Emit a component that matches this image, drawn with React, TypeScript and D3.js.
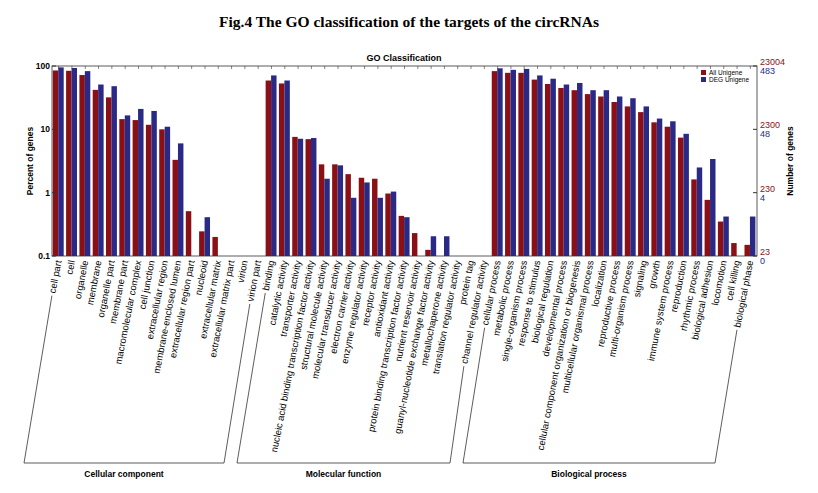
import React, { useEffect, useRef } from 'react';
import * as d3 from 'd3';

const ccTerms = ['cell part', 'cell', 'organelle', 'membrane', 'organelle part', 'membrane part', 'macromolecular complex', 'cell junction', 'extracellular region', 'membrane-enclosed lumen', 'extracellular region part', 'nucleoid', 'extracellular matrix', 'extracellular matrix part', 'virion', 'virion part'];
const ccAll = [85, 84, 72, 42, 32, 14.5, 14, 11.8, 10, 3.3, 0.51, 0.245, 0.2, 0, 0, 0];
const ccDeg = [95, 93, 83, 51, 48, 16.6, 21, 19.5, 11, 6, 0, 0.41, 0, 0, 0, 0];

const mfTerms = ['binding', 'catalytic activity', 'transporter activity', 'nucleic acid binding transcription factor activity', 'structural molecule activity', 'molecular transducer activity', 'electron carrier activity', 'enzyme regulator activity', 'receptor activity', 'antioxidant activity', 'protein binding transcription factor activity', 'nutrient reservoir activity', 'guanyl-nucleotide exchange factor activity', 'metallochaperone activity', 'translation regulator activity', 'protein tag', 'channel regulator activity'];
const mfAll = [59, 53, 7.6, 7.0, 2.8, 2.8, 1.96, 1.72, 1.66, 0.97, 0.43, 0.23, 0.125, 0, 0, 0, 0];
const mfDeg = [71, 59, 7.1, 7.3, 1.66, 2.7, 0.83, 1.45, 0.83, 1.04, 0.41, 0, 0.205, 0.205, 0, 0, 0];

const bpTerms = ['cellular process', 'metabolic process', 'single-organism process', 'response to stimulus', 'biological regulation', 'developmental process', 'cellular component organization or biogenesis', 'multicellular organismal process', 'localization', 'reproductive process', 'multi-organism process', 'signaling', 'growth', 'immune system process', 'reproduction', 'rhythmic process', 'biological adhesion', 'locomotion', 'cell killing', 'biological phase'];
const bpAll = [83, 78, 78, 61, 52, 45, 41.5, 36, 33, 27, 23, 18.7, 12.9, 11, 7.4, 1.62, 0.77, 0.35, 0.16, 0.15];
const bpDeg = [92, 87, 90, 71, 63, 51, 54, 41.5, 41.5, 33, 31, 23, 14.8, 13.4, 8.5, 2.5, 3.4, 0.42, 0, 0.42];

const groups = ['Cellular component', 'Molecular function', 'Biological process'];
const leftTicks = [0.1, 1, 10, 100];
const rightAll = ['23', '230', '2300', '23004'];
const rightDeg = ['0', '4', '48', '483'];

const RED = '#8b1016';
const BLUE = '#2a2a86';

const App: React.FC = () => {
  const ref = useRef<SVGSVGElement | null>(null);

  useEffect(() => {
    if (!ref.current) return;
    const svg = d3.select(ref.current);
    svg.selectAll('*').remove();

    const terms = [...ccTerms, ...mfTerms, ...bpTerms];
    const all = [...ccAll, ...mfAll, ...bpAll];
    const deg = [...ccDeg, ...mfDeg, ...bpDeg];
    const ranges = [
      [0, ccTerms.length - 1],
      [ccTerms.length, ccTerms.length + mfTerms.length - 1],
      [ccTerms.length + mfTerms.length, terms.length - 1],
    ];
    const corners = [[24, 224], [237, 450], [463, 715]];

    const left = 52, right = 757, top = 66, bottom = 256;
    const x = d3.scaleBand<number>().domain(d3.range(terms.length)).range([left, right]);
    const y = d3.scaleLog().domain([0.1, 100]).range([bottom, top]);
    const bw = x.bandwidth() * 0.41;

    svg.append('text').attr('x', 409).attr('y', 27).attr('text-anchor', 'middle')
      .style('font-family', 'Liberation Serif, serif').style('font-weight', 'bold').style('font-size', '15.5px')
      .text('Fig.4 The GO classification of the targets of the circRNAs');

    const sans = 'Liberation Sans, Arial, sans-serif';
    svg.append('text').attr('x', 404).attr('y', 61).attr('text-anchor', 'middle')
      .style('font-family', sans).style('font-size', '9px').style('font-weight', 'bold').text('GO Classification');

    terms.forEach((_, i) => {
      const x0 = x(i)! + x.bandwidth() * 0.06;
      if (all[i] > 0) svg.append('rect').attr('x', x0).attr('width', bw)
        .attr('y', y(all[i])).attr('height', bottom - y(all[i])).attr('fill', RED);
      if (deg[i] > 0) svg.append('rect').attr('x', x0 + bw).attr('width', bw)
        .attr('y', y(deg[i])).attr('height', bottom - y(deg[i])).attr('fill', BLUE);
    });

    svg.append('rect').attr('x', left).attr('y', top).attr('width', right - left).attr('height', bottom - top)
      .attr('fill', 'none').attr('stroke', '#333').attr('stroke-width', 0.8);
    terms.forEach((_, i) => {
      const cx = x(i)! + x.bandwidth() / 2;
      svg.append('line').attr('x1', cx).attr('x2', cx).attr('y1', top).attr('y2', top + 3).attr('stroke', '#333').attr('stroke-width', 0.6);
    });

    leftTicks.forEach((t, k) => {
      svg.append('line').attr('x1', left).attr('x2', left + 4).attr('y1', y(t)).attr('y2', y(t)).attr('stroke', '#333');
      svg.append('line').attr('x1', right - 4).attr('x2', right).attr('y1', y(t)).attr('y2', y(t)).attr('stroke', '#333');
      svg.append('text').attr('x', left - 2).attr('y', y(t) + 3).attr('text-anchor', 'end')
        .style('font-family', sans).style('font-size', '8.5px').style('font-weight', 'bold').text(String(t));
      svg.append('text').attr('x', right + 3).attr('y', y(t) - 1).style('font-family', sans)
        .style('font-size', '9px').attr('fill', RED).text(rightAll[k]);
      svg.append('text').attr('x', right + 3).attr('y', y(t) + 8).style('font-family', sans)
        .style('font-size', '9px').attr('fill', BLUE).text(rightDeg[k]);
    });

    svg.append('text').attr('transform', `translate(33,${(top + bottom) / 2}) rotate(-90)`).attr('text-anchor', 'middle')
      .style('font-family', sans).style('font-size', '8.5px').style('font-weight', 'bold').text('Percent of genes');
    svg.append('text').attr('transform', `translate(793,${(top + bottom) / 2}) rotate(-90)`).attr('text-anchor', 'middle')
      .style('font-family', sans).style('font-size', '8.5px').style('font-weight', 'bold').text('Number of genes');

    [['All Unigene', RED], ['DEG Unigene', BLUE]].forEach(([name, c], k) => {
      svg.append('rect').attr('x', 701).attr('y', 70 + k * 7).attr('width', 5).attr('height', 5).attr('fill', c);
      svg.append('text').attr('x', 709).attr('y', 75 + k * 7).style('font-family', sans).style('font-size', '6.5px').text(name);
    });

    const deg2 = 79;
    const ang = deg2 * Math.PI / 180;
    const starts: [number, number][] = [];
    terms.forEach((t, i) => {
      const ax = x(i)! + x.bandwidth() / 2 + 3;
      const ay = 261;
      const txt = svg.append('text').attr('transform', `translate(${ax},${ay}) rotate(-${deg2})`).attr('text-anchor', 'end')
        .style('font-family', sans).style('font-size', '9.5px').text(t);
      const L = (txt.node() as SVGTextElement).getComputedTextLength();
      starts.push([ax - Math.cos(ang) * (L + 2) - 3, ay + Math.sin(ang) * (L + 2)]);
    });

    groups.forEach((g, k) => {
      const [a, b] = ranges[k];
      const [c0, c1] = corners[k];
      const by = 463;
      svg.append('path').attr('fill', 'none').attr('stroke', '#333').attr('stroke-width', 0.8)
        .attr('d', `M${starts[a][0]},${starts[a][1]}L${c0},${by}L${c1},${by}L${starts[b][0]},${starts[b][1]}`);
      svg.append('text').attr('x', (c0 + c1) / 2).attr('y', 477).attr('text-anchor', 'middle')
        .style('font-family', sans).style('font-size', '8.5px').style('font-weight', 'bold').text(g);
    });
  }, []);

  return <svg ref={ref} width={818} height={493} style={{ position: 'absolute', left: 0, top: 0, background: '#fff' }} />;
};

export default App;
